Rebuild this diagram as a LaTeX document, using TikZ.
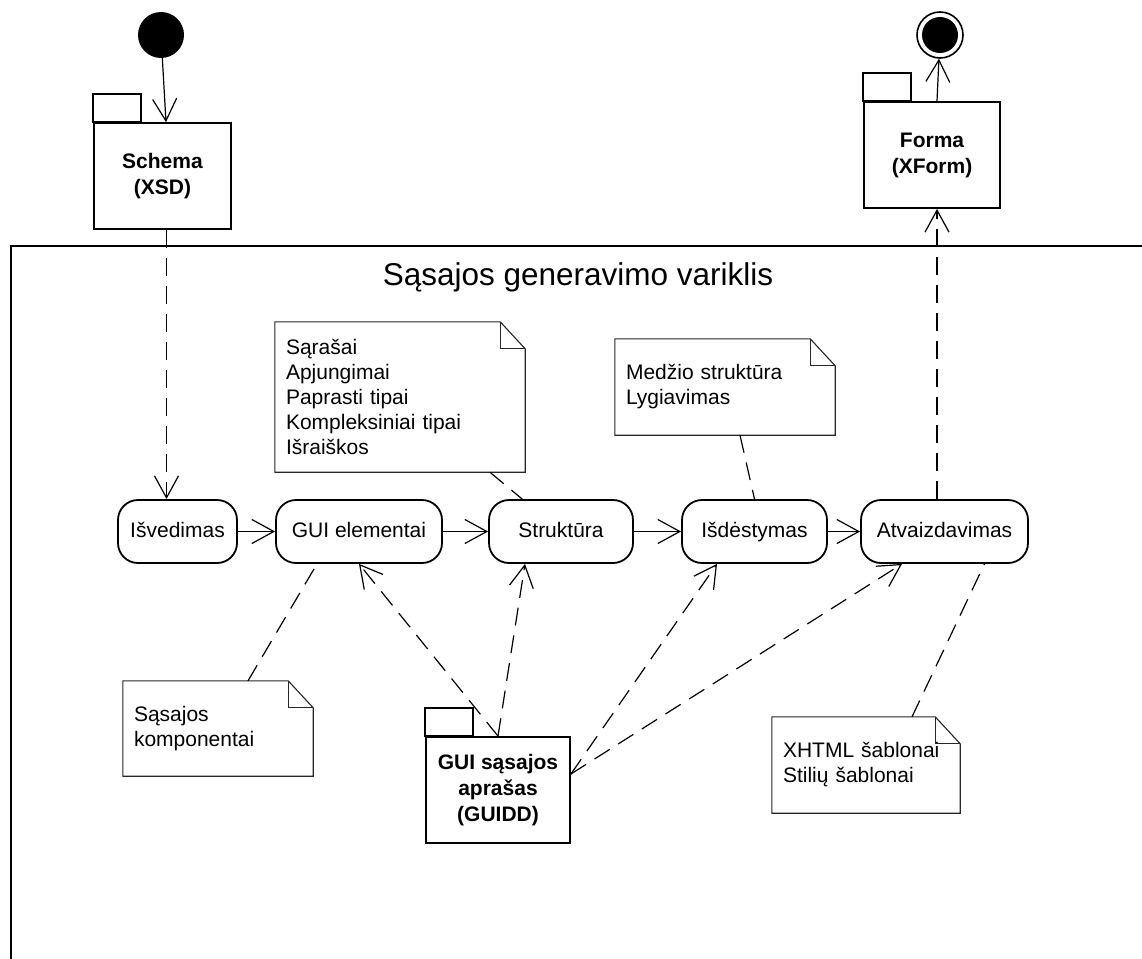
\documentclass[tikz,border=0pt]{standalone}
\usepackage{fontspec}
\setmainfont{Liberation Sans}
\usetikzlibrary{arrows.meta,calc}

% folded-corner note outline around a named node
\newcommand\notepaper[1]{%
  \draw[noteline] (#1.south west) -- (#1.north west) -- ($(#1.north east)+(-25,0)$)
    -- ($(#1.north east)+(0,27)$) -- (#1.south east) -- cycle;
  \draw[noteline] ($(#1.north east)+(-25,0)$) -- ($(#1.north east)+(-25,27)$)
    -- ($(#1.north east)+(0,27)$);
}
% tab on top of a package node
\newcommand\pkgtab[1]{%
  \draw[line width=1.8pt] (#1.north west) rectangle ($(#1.north west)+(48,-28)$);
}

\begin{document}
\begin{tikzpicture}[x=1pt,y=-1pt,
  every node/.style={font=\fontsize{21}{25}\selectfont},
  act/.style={draw, line width=1.8pt, rounded corners=20pt, minimum height=63pt,
    inner sep=0pt, text height=15pt, text depth=4pt, fill=white},
  pkg/.style={draw, line width=1.8pt, minimum width=#1, minimum height=106pt,
    align=center, inner sep=0pt, fill=white,
    font=\fontsize{21}{26}\bfseries\selectfont},
  notebody/.style={inner xsep=11pt, inner ysep=0pt, align=left},
  noteline/.style={line width=1.1pt, draw=black!85, line join=miter},
  flow/.style={line width=1.2pt, -{Straight Barb[length=22pt,width=24pt]}},
  dep/.style={flow, dash pattern=on 18pt off 10pt},
  link/.style={line width=1.2pt, dash pattern=on 18pt off 10pt},
]
\useasboundingbox (0,0) rectangle (1142,958);
\clip (0,0) rectangle (1142,958);

% engine frame (runs past the right and bottom edges)
\draw[line width=2.2pt] (11,970) -- (11,246) -- (1160,246);
\node[font=\fontsize{31.5}{38}\selectfont] (title) at (578,277) {Sąsajos generavimo variklis};

% initial and final states
\node[circle, fill=black, minimum size=46pt, inner sep=0pt] (start) at (161,35) {};
\node[circle, draw, line width=1.6pt, fill=white, minimum size=46pt, inner sep=0pt] (final) at (940,35) {};
\node[circle, fill=black, minimum size=36pt, inner sep=0pt] (finalin) at (940,35) {};

% packages
\node[pkg=137pt] (schema) at (162.5,176) {Schema\\(XSD)};
\pkgtab{schema}
\node[pkg=136pt] (forma) at (932,155) {Forma\\(XForm)};
\pkgtab{forma}
\node[pkg=144pt] (guidd) at (498,790) {GUI sąsajos\\aprašas\\(GUIDD)};
\pkgtab{guidd}

% activities
\node[act, minimum width=119pt] (isv) at (177.5,531.5) {Išvedimas};
\node[act, minimum width=166pt] (gui) at (359,531.5) {GUI elementai};
\node[act, minimum width=144pt] (str) at (561,531.5) {Struktūra};
\node[act, minimum width=145pt] (isd) at (754.5,531.5) {Išdėstymas};
\node[act, minimum width=167pt] (atv) at (944.5,531.5) {Atvaizdavimas};

% notes
\node[notebody, text width=228pt, minimum height=150pt] (n1) at (400,397)
  {Sąrašai\\Apjungimai\\Paprasti tipai\\Kompleksiniai tipai\\Išraiškos};
\notepaper{n1}
\node[notebody, text width=198pt, minimum height=96pt] (n2) at (725,387)
  {Medžio struktūra\\Lygiavimas};
\notepaper{n2}
\node[notebody, text width=168pt, minimum height=95pt] (n3) at (218,728.5)
  {Sąsajos\\komponentai};
\notepaper{n3}
\node[notebody, text width=166pt, minimum height=96pt] (n4) at (866,765)
  {XHTML šablonai\\Stilių šablonai};
\notepaper{n4}

% control flow
\draw[flow] (start) -- ($(schema.north)+(3.5,0)$);
\draw[flow] ($(forma.north)+(5,0)$) -- (final);
\draw[flow] (isv) -- (gui);
\draw[flow] (gui) -- (str);
\draw[flow] (str) -- (isd);
\draw[flow] (isd) -- (atv);

% dependencies
\coordinate (sx) at ($(schema.south)+(4,0)$);
\draw[dep] (sx) -- (sx |- isv.north);
\coordinate (fx) at ($(forma.south)+(5,0)$);
\draw[dep] (fx |- atv.north) -- (fx);
\coordinate (gr) at ($(guidd.east)+(0,-16)$);
\draw[dep] (guidd.north) -- (gui.south);
\draw[dep] (guidd.north) -- ($(str.south)+(-36,0)$);
\draw[dep] (gr) -- ($(isd.south)+(-37.5,0)$);
\draw[dep] (gr) -- ($(atv.south)+(-42.5,0)$);

% note anchors
\draw[link] (n1) -- (str);
\draw[link] ($(n2.south)+(15,0)$) -- (isd.north);
\draw[link] ($(n3.north)+(30,0)$) -- ($(gui.south)+(-42,0)$);
\draw[link] ($(n4.north)+(46,0)$) -- ($(atv.south)+(40,0)$);
\end{tikzpicture}
\end{document}
